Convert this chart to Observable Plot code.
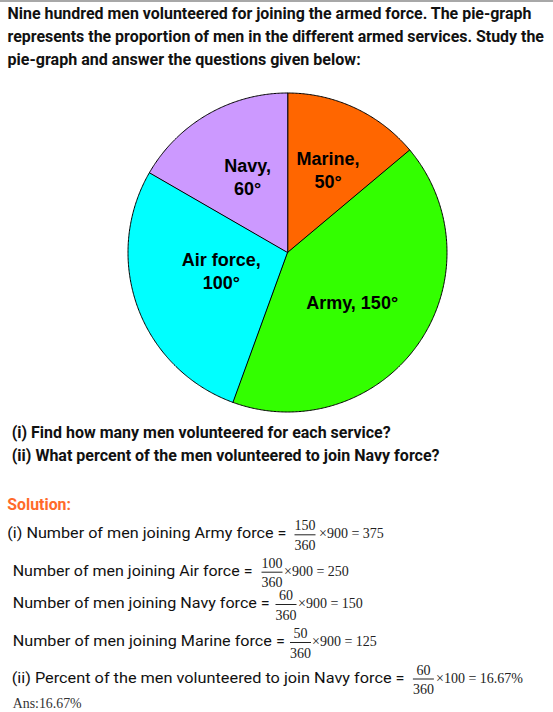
<!DOCTYPE html>
<html><head><meta charset="utf-8">
<script src="https://cdn.jsdelivr.net/npm/d3@7"></script>
<script src="https://cdn.jsdelivr.net/npm/@observablehq/plot@0.6"></script>
<style>
html,body{margin:0;padding:0;background:#fff;}
#page{position:relative;width:553px;height:712px;overflow:hidden;background:#fff;}
#topbar{position:absolute;left:0;top:0;width:553px;height:2px;background:#a8a8a8;}
#pie{position:absolute;left:116.7px;top:81.7px;}
#txt{position:absolute;left:0;top:0;pointer-events:none;}
</style></head><body>
<div id="page"><div id="topbar"></div><div id="pie"></div><svg id="txt" width="553" height="712"></svg></div>
<script>
// ---- data ----
const services = ["Marine", "Army", "Air force", "Navy"];
const degrees = [50, 150, 100, 60];
const colors = ["#ff6600", "#33ff00", "#00ffff", "#cc99ff"];
const totalMen = 900;
const solutionOrder = ["Army", "Air force", "Navy", "Marine"];
const percentService = "Navy";
const titleLines = [
  "Nine hundred men volunteered for joining the armed force. The pie-graph",
  "represents the proportion of men in the different armed services. Study the",
  "pie-graph and answer the questions given below:"
];
const questions = [
  "(i) Find how many men volunteered for each service?",
  "(ii) What percent of the men volunteered to join Navy force?"
];

// ---- pie ----
const slices = services.map((s, i) => ({name: s, deg: degrees[i]}));
const arcs = d3.pie().sort(null).value(d => d.deg).startAngle(0).endAngle(2 * Math.PI)(slices);
const pts = arcs.flatMap(a => {
  const n = Math.max(2, Math.ceil((a.endAngle - a.startAngle) / (Math.PI / 360)));
  const out = [{name: a.data.name, x: 0, y: 0}];
  for (let k = 0; k <= n; k++) {
    const t = a.startAngle + (a.endAngle - a.startAngle) * k / n;
    out.push({name: a.data.name, x: Math.sin(t), y: Math.cos(t)});
  }
  return out;
});
// label placement tweaks (layout)
const labelPos = {"Marine": {r: 0.58, da: 1}, "Army": {r: 0.51, da: 2.4}, "Air force": {r: 0.43, da: 4.8}, "Navy": {r: 0.54, da: 2.4}};
const singleLine = new Set(["Army"]);
const labels = arcs.map(a => {
  const p = labelPos[a.data.name];
  const t = (a.startAngle + a.endAngle) / 2 + p.da * Math.PI / 180;
  return {
    x: p.r * Math.sin(t), y: p.r * Math.cos(t),
    text: a.data.name + "," + (singleLine.has(a.data.name) ? " " : "\n") + a.data.deg + "°"
  };
});

const chart = Plot.plot({
  width: 340, height: 340,
  marginTop: 10.5, marginRight: 10.5, marginBottom: 10.5, marginLeft: 10.5,
  x: {domain: [-1, 1], axis: null},
  y: {domain: [-1, 1], axis: null},
  color: {domain: services, range: colors},
  style: {background: "transparent", overflow: "visible"},
  marks: [
    Plot.line(pts, {x: "x", y: "y", z: "name", fill: "name", stroke: "#000", strokeWidth: 1, curve: "linear-closed", strokeLinejoin: "miter"}),
    Plot.text(labels, {x: "x", y: "y", text: "text", fontSize: 18, fontWeight: "bold",
      fontFamily: "'Liberation Sans', Arial, sans-serif", lineHeight: 1.27, fill: "#000"})
  ]
});
document.getElementById("pie").appendChild(chart);

// ---- text ----
const svg = d3.select("#txt");
function addText(str, o) {
  const t = svg.append("text")
    .attr("x", 0).attr("y", 0)
    .attr("font-family", o.family || "Roboto, sans-serif")
    .attr("font-size", o.size)
    .attr("font-weight", o.weight || "normal")
    .attr("fill", o.fill || "#111")
    .attr("text-anchor", o.anchor || "start")
    .text(str);
  let sx = 1;
  if (o.right != null) {
    const w = t.node().getComputedTextLength();
    if (w > 0) sx = (o.right - o.x) / w;
  }
  t.attr("transform", `translate(${o.x},${o.y}) scale(${sx},1)`);
  return t;
}
const serif = "'Liberation Serif', 'Times New Roman', serif";
function frac(num, den, cx, tb) {
  addText(String(num), {x: cx, y: tb - 8, size: 14, family: serif, anchor: "middle", fill: "#222"});
  svg.append("line").attr("x1", cx - 10.5).attr("x2", cx + 10.5)
    .attr("y1", tb - 3.5).attr("y2", tb - 3.5).attr("stroke", "#222").attr("stroke-width", 1);
  addText(String(den), {x: cx, y: tb + 11.5, size: 14, family: serif, anchor: "middle", fill: "#222"});
}

const titleLayout = [{y: 19.3, right: 532}, {y: 42.1, right: 544}, {y: 64.9, right: 361}];
titleLines.forEach((s, i) => addText(s, {x: 7.5, y: titleLayout[i].y, right: titleLayout[i].right, size: 17, weight: "bold"}));

const qLayout = [{y: 438.3, right: 391}, {y: 460.7, right: 440}];
questions.forEach((s, i) => addText(s, {x: 11.7, y: qLayout[i].y, right: qLayout[i].right, size: 16.5, weight: "bold"}));

addText("Solution:", {x: 7.3, y: 510, right: 71, size: 16.5, weight: "bold", fill: "#ff6a2a"});

const rowLayout = [
  {left: 7.3, right: 286.7, tb: 538.3, cx: 305, rest: 319},
  {left: 12.7, right: 252.6, tb: 575.7, cx: 272, rest: 284},
  {left: 12.7, right: 270, tb: 608, cx: 286, rest: 298},
  {left: 12.7, right: 285, tb: 646, cx: 300.5, rest: 312}
];
solutionOrder.forEach((name, i) => {
  const L = rowLayout[i];
  const deg = degrees[services.indexOf(name)];
  const force = name === "Air force" ? name : name + " force";
  addText((i === 0 ? "(i) " : "") + "Number of men joining " + force + " =", {x: L.left, y: L.tb, right: L.right, size: 15.5});
  frac(deg, 360, L.cx, L.tb);
  addText("×" + totalMen + " = " + (deg / 360 * totalMen), {x: L.rest, y: L.tb, size: 14, family: serif, fill: "#222"});
});

const pDeg = degrees[services.indexOf(percentService)];
const pct = (pDeg / 360 * 100).toFixed(2) + "%";
addText("(ii) Percent of the men volunteered to join " + percentService + " force =", {x: 11.7, y: 682.5, right: 405, size: 15.5});
frac(pDeg, 360, 423.4, 682.5);
addText("×100 = " + pct, {x: 436, y: 682.5, size: 14, family: serif, fill: "#222"});
addText("Ans:" + pct, {x: 12.7, y: 707.7, right: 81.7, size: 14, family: serif, fill: "#333"});
</script>
</body></html>
